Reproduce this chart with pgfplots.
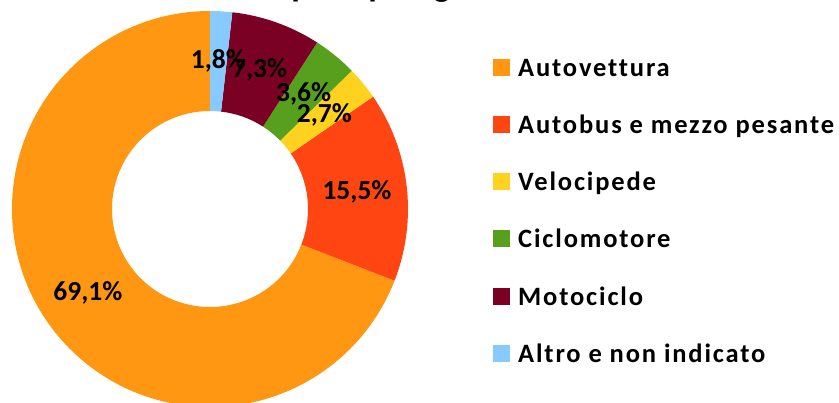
\documentclass[border=0pt]{standalone}
\usepackage{fontspec}
\setmainfont{Carlito}
\usepackage{pgfplots}
\usepackage{pgfplotstable}
\pgfplotsset{compat=1.18}

\definecolor{cauto}{HTML}{FF9712}
\definecolor{cbus}{HTML}{FF4612}
\definecolor{cvelo}{HTML}{FFD21F}
\definecolor{cciclo}{HTML}{56A01E}
\definecolor{cmoto}{HTML}{7A0024}
\definecolor{caltro}{HTML}{87CAFF}

\newcommand\labelfont{\fontsize{27.5bp}{30bp}\selectfont\bfseries}
\newcommand\titlefont{\fontsize{35bp}{40bp}\selectfont\bfseries}
\newcommand\legendfont{\fontsize{26.5bp}{28bp}\selectfont\bfseries\addfontfeatures{LetterSpace=7,Ligatures=NoCommon}}

\pgfkeys{/pgf/number format/.cd, fixed, fixed zerofill, precision=1, use comma, assume math mode=true}

% shares in percent, counter-clockwise from 12 o'clock
\pgfplotstableread[col sep=comma]{
name,value,col
Autovettura,69.1,cauto
Autobus e mezzo pesante,15.5,cbus
Velocipede,2.7,cvelo
Ciclomotore,3.6,cciclo
Motociclo,7.3,cmoto
Altro e non indicato,1.8,caltro
}\pietable

% ring geometry
\def\rout{198bp}\def\rin{98bp}\def\rlab{148bp}

\def\sectors{}
\def\labels{}
\gdef\angstart{90}
\pgfplotsforeachungrouped \i in {0,...,5}{%
  \pgfplotstablegetelem{\i}{value}\of\pietable \let\sval\pgfplotsretval
  \pgfplotstablegetelem{\i}{col}\of\pietable \let\scol\pgfplotsretval
  \pgfmathsetmacro\angend{\angstart+3.6*\sval}%
  \pgfmathsetmacro\angmid{(\angstart+\angend)/2}%
  \xdef\sectors{\unexpanded\expandafter{\sectors}%
    \noexpand\fill[\scol] (\angstart:\rout) arc[start angle=\angstart, end angle=\angend, radius=\rout]
      -- (\angend:\rin) arc[start angle=\angend, end angle=\angstart, radius=\rin] -- cycle;}%
  \xdef\labels{\unexpanded\expandafter{\labels}%
    \noexpand\node[font=\noexpand\labelfont] at (\angmid:\rlab) {\noexpand\pgfmathprintnumber{\sval}\noexpand\%};}%
  \global\let\angstart\angend
}

\begin{document}
\begin{tikzpicture}
\begin{axis}[
  at={(0,0)}, anchor=south west,
  width=839bp, height=403bp, scale only axis,
  xmin=-210, xmax=629, ymin=-194, ymax=209,
  hide axis, clip=false,
  legend cell align=left,
  legend image code/.code={\fill[#1] (0bp,-8.5bp) rectangle (17bp,8.5bp);},
  legend style={draw=none, fill=none, inner xsep=0pt, inner ysep=0pt,
    at={(0.5876,0.861)}, anchor=north west,
    row sep=35.2bp, column sep=8bp,
    nodes={inner sep=0pt, text height=20bp, text depth=2bp},
    font=\legendfont},
]
\begin{scope}[shift={(axis cs:0,0)}]
\sectors
\labels
\end{scope}
\node[anchor=base west, font=\titlefont] at (axis cs:-158,212) {Veicoli coinvolti per tipologia};
\pgfplotsforeachungrouped \i in {0,...,5}{%
  \pgfplotstablegetelem{\i}{col}\of\pietable
  \edef\tmp{\noexpand\addlegendimage{fill=\pgfplotsretval, draw=none}}\tmp
  \pgfplotstablegetelem{\i}{name}\of\pietable
  \addlegendentryexpanded{\pgfplotsretval}}
\end{axis}
\pgfresetboundingbox
\useasboundingbox (0,0) rectangle (839bp,403bp);
\end{tikzpicture}
\end{document}
